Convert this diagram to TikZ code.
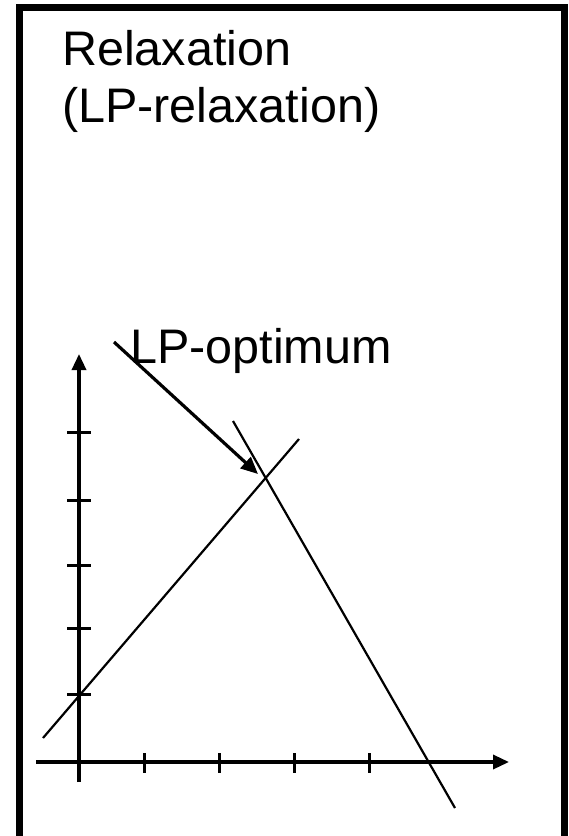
\documentclass[tikz,border=0pt]{standalone}
\usepackage{fontspec}
\setmainfont{Liberation Sans}
\usetikzlibrary{arrows.meta}
\begin{document}
\begin{tikzpicture}[x=1pt,y=-1pt,
  axis/.style={line width=3.4pt,-{Triangle[length=16pt,width=14pt]}},
  tickmark/.style={line width=3pt},
  cline/.style={line width=2.2pt},
  ptr/.style={line width=3.2pt,-{Triangle[length=17pt,width=15pt]}},
  label/.style={font=\fontsize{48.5}{55}\selectfont,inner sep=0pt,anchor=base west}]
\useasboundingbox (0,0) rectangle (569,836);
\draw[line width=7pt] (19.5,7) rectangle (564.5,839);
\node[label] (t1) at (62,65) {Relaxation};
\node[label] (t2) at (62,122) {(LP-relaxation)};
\node[label] (lpo) at (130,363) {LP-optimum};
% axes
\coordinate (xs) at (36,762);
\coordinate (xe) at (509,762);
\coordinate (ys) at (79,782);
\coordinate (ye) at (79,354);
\draw[axis] (xs) -- (xe);
\draw[axis] (ys) -- (ye);
% ticks
\foreach \x [count=\i] in {144,219,294,369} {
  \coordinate (xt\i a) at (\x,753);
  \coordinate (xt\i b) at (\x,773);
  \draw[tickmark] (xt\i a) -- (xt\i b);
}
\foreach \y [count=\i] in {432,500,565,628,694} {
  \coordinate (yt\i a) at (67,\y);
  \coordinate (yt\i b) at (91,\y);
  \draw[tickmark] (yt\i a) -- (yt\i b);
}
% constraint lines
\coordinate (a1) at (43,738);
\coordinate (a2) at (299,439);
\coordinate (b1) at (233,421);
\coordinate (b2) at (455,808);
\draw[cline] (a1) -- (a2);
\draw[cline] (b1) -- (b2);
% pointer
\coordinate (p1) at (114,342);
\coordinate (p2) at (258,474);
\draw[ptr] (p1) -- (p2);
\end{tikzpicture}
\end{document}
